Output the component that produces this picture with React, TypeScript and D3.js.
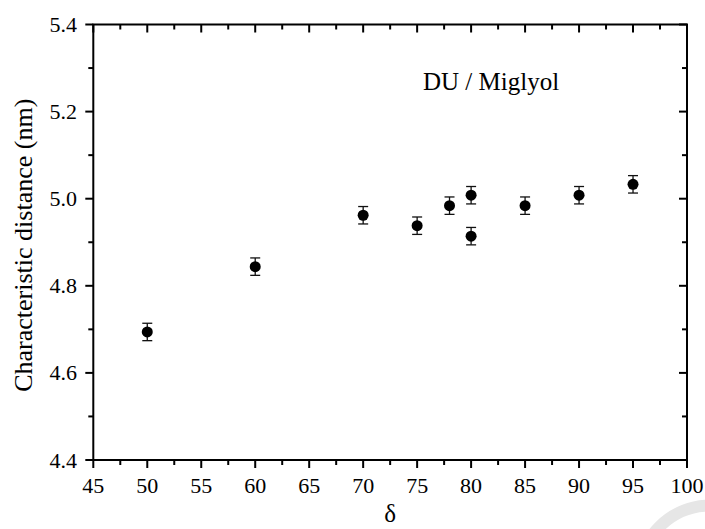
import React from "react";
import * as d3 from "d3";

const deltaValues = [50, 60, 70, 75, 78, 80, 80, 85, 90, 95];
const distanceValues = [4.694, 4.844, 4.962, 4.938, 4.984, 5.008, 4.914, 4.984, 5.008, 5.033];
const errorValues = [0.02, 0.02, 0.02, 0.02, 0.02, 0.02, 0.02, 0.02, 0.02, 0.02];
const xTicks = [45, 50, 55, 60, 65, 70, 75, 80, 85, 90, 95, 100];
const xMinorTicks = [47.5, 52.5, 57.5, 62.5, 67.5, 72.5, 77.5, 82.5, 87.5, 92.5, 97.5];
const yTicks = [4.4, 4.6, 4.8, 5.0, 5.2, 5.4];
const yMinorTicks = [4.5, 4.7, 4.9, 5.1, 5.3];

const W = 705;
const H = 529;
const L = 93.3, R = 687, T = 24.5, B = 460;
const FONT = "'Liberation Serif', 'Times New Roman', serif";

export default function App() {
  const x = d3.scaleLinear().domain([45, 100]).range([L, R]);
  const y = d3.scaleLinear().domain([4.4, 5.4]).range([B, T]);
  const sw = 2;
  return (
    <svg width={W} height={H} style={{ position: "absolute", left: 0, top: 0, background: "#fff" }}>
      <rect x={0} y={0} width={W} height={H} fill="#fff" />
      {/* watermark arc */}
      <circle cx={710} cy={576.6} r={71} fill="none" stroke="#e6e6e6" strokeWidth={12} />
      {/* frame */}
      <rect x={L} y={T} width={R - L} height={B - T} fill="none" stroke="#000" strokeWidth={sw} />
      {xTicks.map((t) => (
        <g key={"xt" + t}>
          <line x1={x(t)} x2={x(t)} y1={B} y2={B + 8} stroke="#000" strokeWidth={sw} />
          <line x1={x(t)} x2={x(t)} y1={T} y2={T + 8} stroke="#000" strokeWidth={sw} />
          <text x={x(t)} y={493} textAnchor="middle" fontFamily={FONT} fontSize={22} fill="#000">
            {t}
          </text>
        </g>
      ))}
      {xMinorTicks.map((t) => (
        <g key={"xm" + t}>
          <line x1={x(t)} x2={x(t)} y1={B} y2={B + 5} stroke="#000" strokeWidth={sw} />
          <line x1={x(t)} x2={x(t)} y1={T} y2={T + 5} stroke="#000" strokeWidth={sw} />
        </g>
      ))}
      {yTicks.map((t) => (
        <g key={"yt" + t}>
          <line x1={L - 8} x2={L} y1={y(t)} y2={y(t)} stroke="#000" strokeWidth={sw} />
          <line x1={R - 8} x2={R} y1={y(t)} y2={y(t)} stroke="#000" strokeWidth={sw} />
          <text x={77} y={y(t) + 7.5} textAnchor="end" fontFamily={FONT} fontSize={22} fill="#000">
            {d3.format(".1f")(t)}
          </text>
        </g>
      ))}
      {yMinorTicks.map((t) => (
        <g key={"ym" + t}>
          <line x1={L - 5} x2={L} y1={y(t)} y2={y(t)} stroke="#000" strokeWidth={sw} />
          <line x1={R - 5} x2={R} y1={y(t)} y2={y(t)} stroke="#000" strokeWidth={sw} />
        </g>
      ))}
      {deltaValues.map((d, i) => {
        const cx = x(d);
        const v = distanceValues[i];
        const e = errorValues[i];
        return (
          <g key={"p" + i}>
            <line x1={cx} x2={cx} y1={y(v - e)} y2={y(v + e)} stroke="#111" strokeWidth={1.3} />
            <line x1={cx - 5} x2={cx + 5} y1={y(v - e)} y2={y(v - e)} stroke="#111" strokeWidth={1.3} />
            <line x1={cx - 5} x2={cx + 5} y1={y(v + e)} y2={y(v + e)} stroke="#111" strokeWidth={1.3} />
            <circle cx={cx} cy={y(v)} r={5.5} fill="#000" />
          </g>
        );
      })}
      <text x={423} y={90} fontFamily={FONT} fontSize={25} fill="#000">
        DU / Miglyol
      </text>
      <text
        transform={`translate(32, ${(T + B) / 2 + 3}) rotate(-90)`}
        textAnchor="middle"
        fontFamily={FONT}
        fontSize={26}
        fill="#000"
      >
        Characteristic distance (nm)
      </text>
      <text x={(L + R) / 2} y={522} textAnchor="middle" fontFamily={FONT} fontSize={25} fill="#000">
        δ
      </text>
    </svg>
  );
}
